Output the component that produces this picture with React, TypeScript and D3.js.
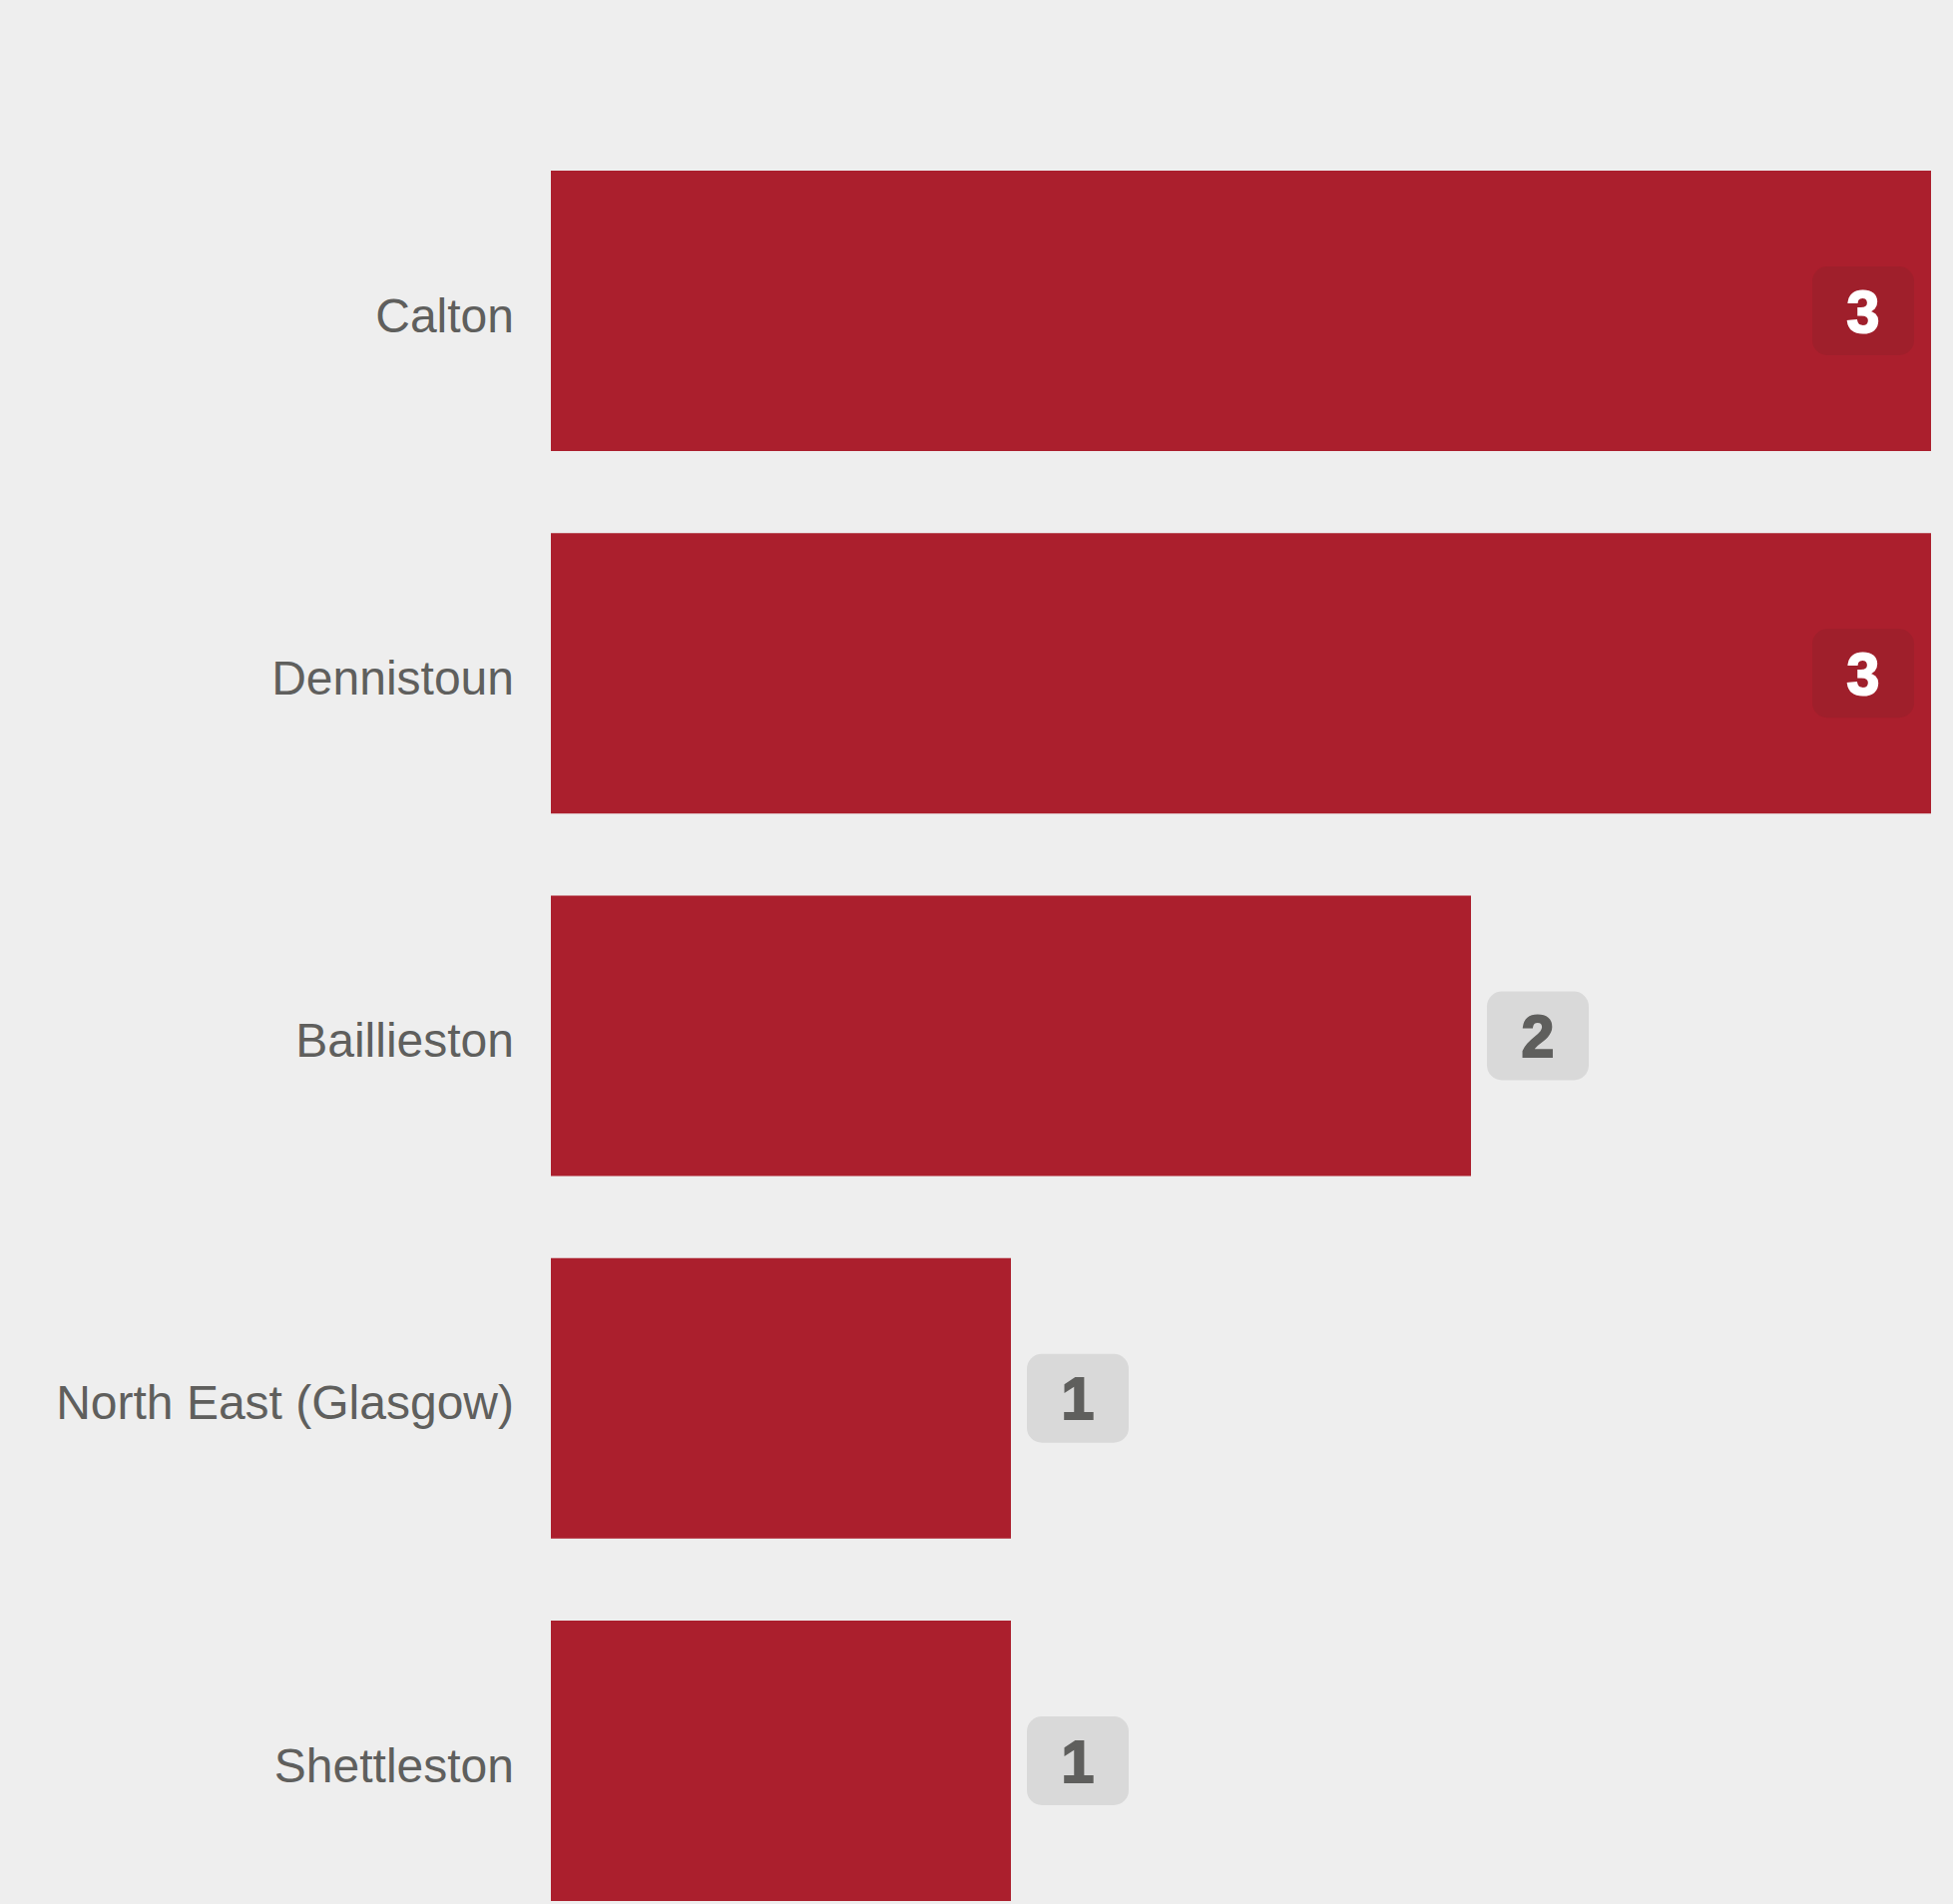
import React from "react";
import * as d3 from "d3";

const categories = ["Calton", "Dennistoun", "Baillieston", "North East (Glasgow)", "Shettleston"];
const values = [3, 3, 2, 1, 1];

const W = 1957;
const H = 1908;
const BG = "#eeeeee";
const BAR = "#ab1f2d";

export default function App() {
  const x = d3.scaleLinear().domain([0, 3]).range([552, 1935]);
  const step = 363.25;
  const pi = 82.25 / step;
  const po = pi / 2;
  const r0 = 171 - step * po;
  const y = d3
    .scaleBand<string>()
    .domain(categories)
    .range([r0, r0 + step * (categories.length - pi + 2 * po)])
    .paddingInner(pi)
    .paddingOuter(po);
  const maxV = d3.max(values) as number;
  const pillW = 102;
  const pillH = 89;
  return (
    <svg
      width={W}
      height={H}
      style={{ position: "absolute", left: 0, top: 0, background: BG }}
    >
      <rect x={0} y={0} width={W} height={H} fill={BG} />
      {categories.map((c, i) => {
        const v = values[i];
        const y0 = y(c) as number;
        const bw = y.bandwidth();
        const cy = y0 + bw / 2;
        const xe = x(v);
        const inside = v === maxV;
        const px = inside ? xe - 17 - pillW : xe + 16;
        return (
          <g key={c}>
            <rect x={x(0)} y={y0} width={xe - x(0)} height={bw} fill={BAR} />
            <text
              x={515}
              y={cy + 21}
              textAnchor="end"
              fontFamily="Liberation Sans, Arial, sans-serif"
              fontSize={48}
              fill="#5f5f5d"
            >
              {c}
            </text>
            <rect
              x={px}
              y={cy - pillH / 2}
              width={pillW}
              height={pillH}
              rx={15}
              ry={15}
              fill={inside ? "#9f1f2b" : "#d9d9d9"}
            />
            <text
              x={px + pillW / 2}
              y={cy + 21}
              textAnchor="middle"
              fontFamily="Liberation Sans, Arial, sans-serif"
              fontWeight="bold"
              fontSize={59}
              fill={inside ? "#ffffff" : "#5f5f5d"}
              stroke={inside ? "#ffffff" : "#5f5f5d"}
              strokeWidth={2}
            >
              {v}
            </text>
          </g>
        );
      })}
    </svg>
  );
}
